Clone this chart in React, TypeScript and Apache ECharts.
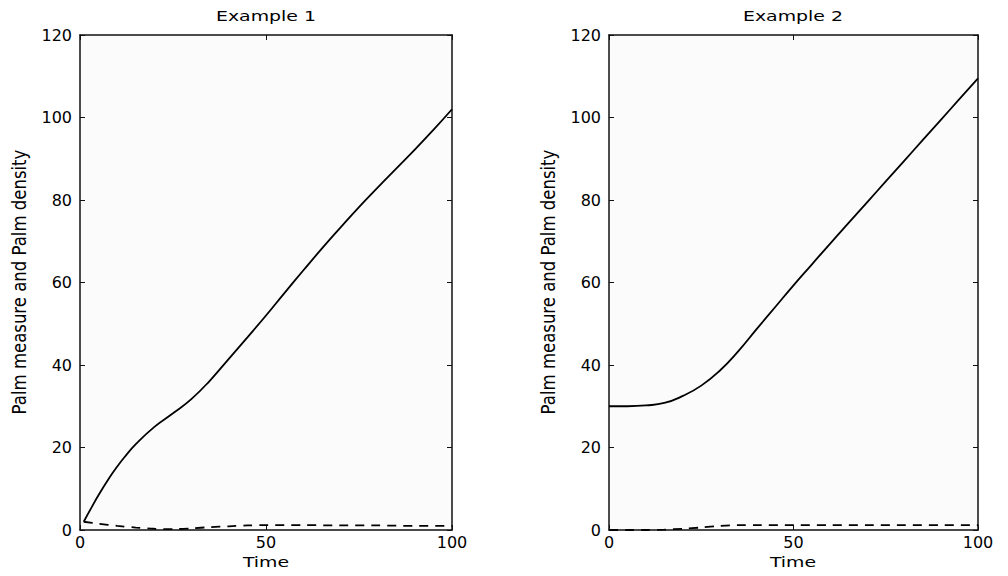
import React, { useEffect, useRef } from "react";
import * as echarts from "echarts";

const titles = ["Example 1", "Example 2"];
const xName = "Time";
const yName = "Palm measure and Palm density";

const t1 = [1, 3, 5, 8, 10, 12, 15, 20, 25, 30, 35, 40, 45, 50, 55, 60, 65, 70, 75, 80, 85, 90, 95, 100];
const measure1 = [2, 5.3, 8.5, 12.8, 15.4, 17.7, 20.8, 25, 28.3, 31.8, 36.3, 41.5, 46.7, 52, 57.5, 62.9, 68.2, 73.3, 78.3, 83, 87.6, 92.2, 97, 102];
const dT1 = [1, 5, 10, 15, 20, 25, 30, 35, 40, 45, 50, 60, 70, 80, 90, 100];
const density1 = [2, 1.5, 1, 0.6, 0.3, 0.2, 0.4, 0.7, 0.9, 1.1, 1.2, 1.2, 1.1, 1.1, 1, 1];

const t2 = [0, 5, 10, 15, 20, 25, 30, 35, 40, 45, 50, 55, 60, 65, 70, 75, 80, 85, 90, 95, 100];
const measure2 = [30, 30, 30.2, 30.8, 32.5, 35, 38.6, 43.3, 48.7, 54, 59.3, 64.4, 69.5, 74.5, 79.5, 84.5, 89.5, 94.5, 99.5, 104.5, 109.5];
const dT2 = [0, 5, 10, 15, 20, 25, 30, 35, 40, 50, 60, 70, 80, 90, 100];
const density2 = [0, 0, 0, 0.1, 0.3, 0.6, 1.0, 1.2, 1.2, 1.2, 1.2, 1.2, 1.2, 1.2, 1.2];

const pair = (xs: number[], ys: number[]) => xs.map((x, i) => [x, ys[i]]);

export default function App() {
  const ref = useRef<HTMLDivElement>(null);
  useEffect(() => {
    const chart = echarts.init(ref.current!, null, { renderer: "svg" });
    const tickFont = "'DejaVu Sans', sans-serif";
    const grids = [
      { left: 80, right: 556, top: 35, bottom: 46 },
      { left: 609, right: 30, top: 35, bottom: 46 },
    ];
    const xAxes: any[] = [];
    const yAxes: any[] = [];
    grids.forEach((_, g) => {
      xAxes.push({
        type: "value", gridIndex: g, min: 0, max: 100, interval: 50,
        axisLine: { show: true, onZero: false, lineStyle: { color: "#111", width: 1.5 } },
        axisTick: { show: true, inside: true, length: 5, lineStyle: { color: "#111" } },
        axisLabel: { color: "#000", fontFamily: tickFont, fontSize: 16, margin: 4 },
        splitLine: { show: false },
      });
      xAxes.push({
        type: "value", gridIndex: g, min: 0, max: 100, interval: 50, position: "top",
        axisLine: { show: true, onZero: false, lineStyle: { color: "#111", width: 1.5 } },
        axisTick: { show: true, inside: true, length: 5, lineStyle: { color: "#111" } },
        axisLabel: { show: false },
        splitLine: { show: false },
      });
      yAxes.push({
        type: "value", gridIndex: g, min: 0, max: 120, interval: 20,
        axisLine: { show: true, onZero: false, lineStyle: { color: "#111", width: 1.5 } },
        axisTick: { show: true, inside: true, length: 5, lineStyle: { color: "#111" } },
        axisLabel: { color: "#000", fontFamily: tickFont, fontSize: 16, margin: 8 },
        splitLine: { show: false },
      });
      yAxes.push({
        type: "value", gridIndex: g, min: 0, max: 120, interval: 20, position: "right",
        axisLine: { show: true, onZero: false, lineStyle: { color: "#111", width: 1.5 } },
        axisTick: { show: true, inside: true, length: 5, lineStyle: { color: "#111" } },
        axisLabel: { show: false },
        splitLine: { show: false },
      });
    });
    const solid = { color: "#000", width: 1.8 };
    const dashed = { color: "#000", width: 1.8, type: [9, 7] as any };
    const series: any[] = [
      { type: "line", xAxisIndex: 0, yAxisIndex: 0, data: pair(t1, measure1), smooth: 0.5, showSymbol: false, lineStyle: solid },
      { type: "line", xAxisIndex: 0, yAxisIndex: 0, data: pair(dT1, density1), smooth: 0.3, showSymbol: false, lineStyle: dashed },
      { type: "line", xAxisIndex: 2, yAxisIndex: 2, data: pair(t2, measure2), smooth: 0.5, showSymbol: false, lineStyle: solid },
      { type: "line", xAxisIndex: 2, yAxisIndex: 2, data: pair(dT2, density2), smooth: 0.3, showSymbol: false, lineStyle: dashed },
    ];
    const wideText = (text: string, x: number, y: number) => ({
      type: "text", x, y, scaleX: 1.35,
      style: { text, align: "center", verticalAlign: "middle", fontFamily: tickFont, fontSize: 14, fill: "#000" },
    });
    const yLabel = (x: number, y: number) => ({
      type: "text", x, y, rotation: Math.PI / 2, scaleX: 0.87,
      style: { text: yName, align: "center", verticalAlign: "middle", fontFamily: tickFont, fontSize: 19, fill: "#000" },
    });
    chart.setOption({
      animation: false,
      backgroundColor: "#fff",
      graphic: [
        wideText(titles[0], 266, 16),
        wideText(titles[1], 793, 16),
        wideText(xName, 266, 562),
        wideText(xName, 793, 562),
        yLabel(19, 282),
        yLabel(548, 282),
      ],
      grid: grids.map((g) => ({ ...g, show: true, backgroundColor: "#fbfbfb", borderWidth: 0 })),
      xAxis: xAxes,
      yAxis: yAxes,
      series,
    });
    return () => chart.dispose();
  }, []);
  return <div ref={ref} style={{ width: 1008, height: 576, position: "absolute", left: 0, top: 0 }} />;
}
